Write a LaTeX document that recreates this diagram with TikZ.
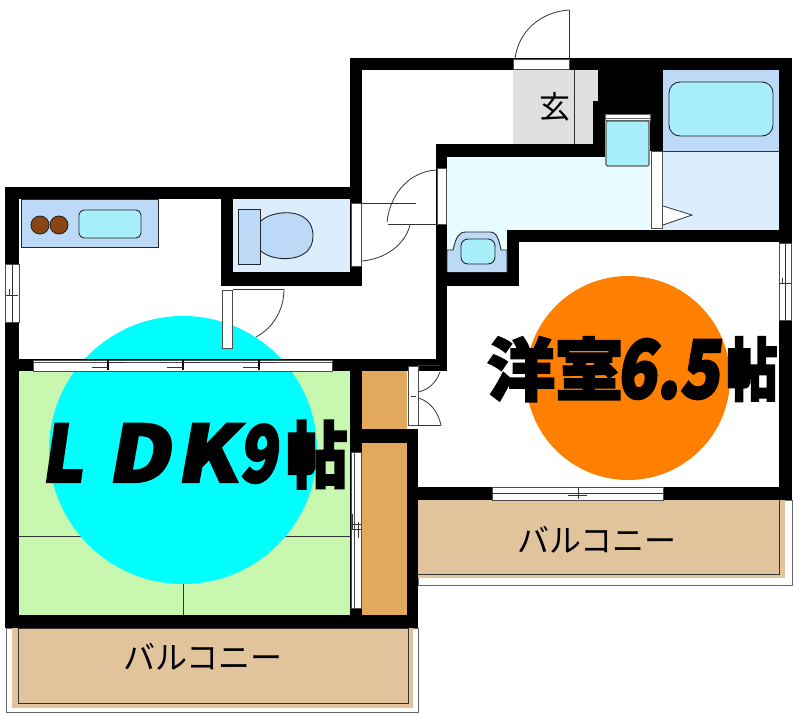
\documentclass[tikz,border=0pt]{standalone}
\usepackage{fontspec}
\newfontfamily\jpfont{Noto Sans CJK JP}
\newfontfamily\heavyfont[BoldFeatures={FakeBold=3}]{Noto Sans CJK JP}
\newfontfamily\slantfont[BoldFeatures={FakeBold=3,FakeSlant=.16}]{Noto Sans CJK JP}
\definecolor{tanfloor}{HTML}{E2C49C}
\definecolor{closetfloor}{HTML}{E2A85C}
\definecolor{tatami}{HTML}{C8F8B0}
\definecolor{wetblue}{HTML}{BCDAF8}
\definecolor{wetpale}{HTML}{DCEEFE}
\definecolor{hallpale}{HTML}{E8FCFF}
\definecolor{tubcyan}{HTML}{A8EEFB}
\definecolor{roomcyan}{HTML}{00FFFF}
\definecolor{roomorange}{HTML}{FF8000}
\definecolor{burner}{HTML}{8B4513}
\definecolor{entrygray}{HTML}{E0E0E0}
\tikzset{
  wall/.style={fill=black},
  thin line/.style={draw=black!80, line width=.8pt},
  opening/.style={fill=white, draw=black!70, line width=.6pt},
  fitting/.style={draw=black!85, line width=.9pt},
  balconytext/.style={font=\jpfont\fontsize{32}{32}\selectfont, inner sep=0pt},
  bigtext/.style={font=\heavyfont\bfseries\fontsize{68}{68}\selectfont, inner sep=0pt, anchor=base},
  bigslant/.style={font=\slantfont\bfseries\fontsize{78}{78}\selectfont, inner sep=0pt, anchor=base}
}
\begin{document}
\begin{tikzpicture}[x=1pt, y=-1pt]
\useasboundingbox (0,0) rectangle (794,714);
\fill [white] (0,0) rectangle (794,714);

% balconies
\draw [draw=black!60, fill=white] (6,628) rectangle (418,712);
\fill [tanfloor] (12,628) rectangle (413,708);
\draw [thin line] (18,628) rectangle (408,703);
\draw [draw=black!60, fill=white] (418,500) rectangle (792,585);
\fill [tanfloor] (418,500) rectangle (785,578);
\draw [thin line] (418,574) -- (779,574) -- (779,500);

% floors
\fill [tatami] (19,371) rectangle (350,615);
\draw [thin line] (19,536) -- (350,536);
\draw [thin line] (183,536) -- (183,615);
\fill [closetfloor] (362,371) rectangle (407,429);
\fill [closetfloor] (362,443) rectangle (407,615);
\fill [wetpale] (233,199) rectangle (350,272);
\fill [hallpale] (447,157) rectangle (650,230);
\fill [hallpale] (447,230) rectangle (507,272);
\fill [wetblue] (663,70) rectangle (779,151);
\fill [wetpale] (663,151) rectangle (779,230);
\draw [thin line] (663,151) -- (779,151);
\draw [thin line] (663,230) -- (779,230);
\fill [entrygray] (513,70) -- (598,70) -- (598,101) -- (593,101) -- (593,144) -- (513,144) -- cycle;
\draw [thin line] (574,70) -- (574,144);

% room marks
\fill [roomcyan] (183,450) circle (134);
\fill [roomorange] (628,378) circle (102);

% walls
\fill [wall] (350,58) rectangle (792,70);
\fill [wall] (350,58) rectangle (362,199);
\fill [wall] (5,187) rectangle (362,199);
\fill [wall] (5,187) rectangle (19,628);
\fill [wall] (5,615) rectangle (418,628);
\fill [wall] (5,359) rectangle (447,371);
\fill [wall] (221,199) rectangle (233,286);
\fill [wall] (221,272) rectangle (362,286);
\fill [wall] (350,199) rectangle (362,286);
\fill [wall] (350,371) rectangle (362,615);
\fill [wall] (362,429) rectangle (418,443);
\fill [wall] (407,429) rectangle (418,628);
\fill [wall] (436,144) rectangle (447,371);
\fill [wall] (436,144) rectangle (605,157);
\fill [wall] (598,70) rectangle (663,114);
\fill [wall] (593,101) rectangle (605,157);
\fill [wall] (650,70) rectangle (663,151);
\fill [wall] (507,230) rectangle (792,242);
\fill [wall] (507,230) rectangle (519,286);
\fill [wall] (436,272) rectangle (519,286);
\fill [wall] (779,58) rectangle (792,243);
\fill [wall] (779,320) rectangle (792,500);
\fill [wall] (418,487) rectangle (792,500);

% windows
\draw [opening] (5,264) rectangle (19,322);
\draw [thin line] (12,264) -- (12,322);
\draw [thin line] (6,295) -- (18,295);
\draw [thin line] (9,289) -- (9,295);
\draw [opening] (779,243) rectangle (791,320);
\draw [thin line] (785,243) -- (785,320);
\draw [thin line] (779,283) -- (791,283);
\draw [thin line] (782,278) -- (782,283);
\draw [opening] (492,487) rectangle (663,500);
\draw [thin line] (492,493) -- (663,493);
\draw [thin line] (568,495) -- (587,495);
\draw [thin line] (578,488) -- (578,499);

% sliding doors
\draw [opening] (33,360) rectangle (332,371);
\draw [draw=black!70] (33,362.5) -- (332,362.5);
\foreach \tick in {108,183,259} {
  \draw [line width=1.6pt] (\tick,360) -- (\tick,370);
  \draw [thin line] (\tick-16,367) -- (\tick,367);
  \draw [thin line] (\tick,362.5) -- (\tick+16,362.5);
}
\draw [opening] (351,452) rectangle (361,608);
\draw [draw=black!70] (354,452) -- (354,608);
\draw [thin line] (351,524) -- (361,524);
\draw [thin line] (351,529) -- (361,529);
\draw [thin line] (352,514) -- (352,530);
\draw [thin line] (358,522) -- (358,538);

% doors
\draw [opening] (222,290) rectangle (232,348);
\draw [thin line] (233,289) -- (284,289);
\draw [thin line] (284,289) .. controls (284,310) and (273,328) .. (256,337);
\draw [opening] (351,203) rectangle (361,266);
\draw [thin line] (362,203) -- (416,203);
\draw [thin line] (410,225) .. controls (405,245) and (385,259) .. (362,261);
\draw [opening] (437,168) rectangle (446,224);
\draw [thin line] (388,224) -- (437,224);
\draw [thin line] (436,170) .. controls (408,172) and (390,195) .. (387,222);
\draw [opening] (408,366) rectangle (418,425);
\draw [thin line] (418,365) -- (440,365);
\draw [thin line] (440,372) .. controls (436,383) and (428,390) .. (418,392);
\draw [thin line] (418,398) .. controls (430,401) and (438,412) .. (441,425);
\draw [thin line] (418,425) -- (441,425);
\draw [thin line] (411,396) -- (416,396);
\draw [opening] (513,59) rectangle (569,69);
\draw [thin line] (569,10) -- (569,59);
\draw [thin line] (569,10) .. controls (540,12) and (518,32) .. (515,59);
\draw [opening] (651,151) rectangle (662,228);
\draw [fill=white, thin line] (663,206) -- (692,215) -- (663,225);

% kitchen
\draw [fitting, fill=wetblue] (21,199) rectangle (158,247);
\foreach \burnerx in {40,59} {
  \draw [fitting, fill=burner] (\burnerx,225) circle (9);
}
\draw [fitting, fill=tubcyan, rounded corners=5pt] (79,210) rectangle (141,238);

% toilet
\draw [fitting, fill=wetblue] (260,222) .. controls (270,210) and (313,205) .. (313,236) .. controls (313,265) and (270,262) .. (260,250);
\draw [fitting, fill=wetblue] (238,209) rectangle (260,264);

% wash basin and washer pan
\draw [fitting, fill=wetblue] (447,272) -- (447,250) -- (453,250) .. controls (456,238) and (458,232) .. (466,232) -- (490,232) .. controls (497,232) and (499,240) .. (501,250) -- (507,250) -- (507,272);
\draw [fitting, fill=tubcyan, rounded corners=7pt] (461,239) rectangle (495,264);
\draw [draw=black!60, fill=white] (605,114) rectangle (650,118);
\draw [draw=black!60, fill=white] (605,118) rectangle (650,120);
\draw [draw=black!65, line width=1.2pt, fill=tubcyan, rounded corners=2pt] (606,121) rectangle (649,166);

% bath
\draw [fitting, fill=tubcyan, rounded corners=11pt] (669,82) rectangle (773,136);

% labels
\node [font=\jpfont\fontsize{31}{31}\selectfont, inner sep=0pt] (entrylabel) at (555,107) {玄};
\node [balconytext] (balconyleft) at (203,657) {バルコニー};
\node [balconytext] (balconyright) at (597,540) {バルコニー};
\node [bigslant, xscale=.9] (ldkl) at (62,482) {L};
\node [bigslant, xscale=1.1] (ldkd) at (138,482) {D};
\node [bigslant, xscale=1.1] (ldkk) at (206,482) {K};
\node [bigslant, xscale=.8] (ldknine) at (258,482) {9};
\node [bigtext, xscale=.85, font=\heavyfont\bfseries\fontsize{72}{72}\selectfont] (ldkmat) at (317,482) {帖};
\node [bigtext] (westernroom) at (555,395) {洋室};
\node [bigslant, xscale=.82, font=\slantfont\bfseries\fontsize{80}{80}\selectfont] (westernsize) at (668,398) {6.5};
\node [bigtext, xscale=.75] (westernmat) at (752,395) {帖};
\end{tikzpicture}
\end{document}
